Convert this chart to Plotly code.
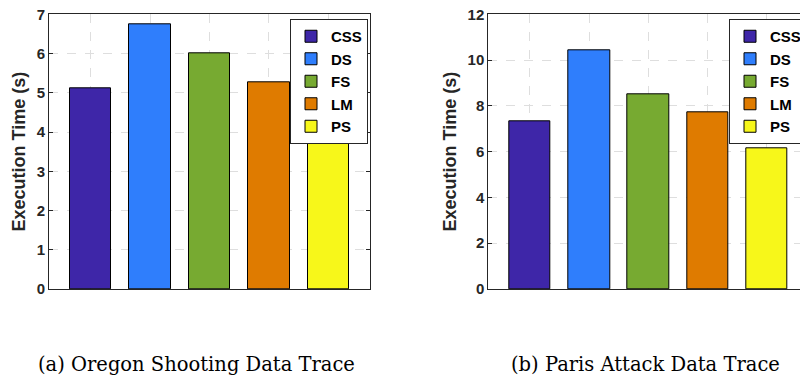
import plotly.graph_objects as go

methods = ["CSS", "DS", "FS", "LM", "PS"]
colors = ["#3e26a8", "#2f7efc", "#77aa31", "#df7b00", "#f7f71a"]
oregon_times = [5.12, 6.745, 6.01, 5.28, 3.87]
paris_times = [7.33, 10.41, 8.51, 7.74, 6.14]
captions = ["(a) Oregon Shooting Data Trace", "(b) Paris Attack Data Trace"]

W, H = 800, 377
ink = "#262626"
sans = "Liberation Sans, Arial, sans-serif"

fig = go.Figure()
for i, (m, c) in enumerate(zip(methods, colors)):
    fig.add_trace(go.Bar(x=[m], y=[oregon_times[i]], name=m, marker=dict(color=c, line=dict(color="black", width=1)),
                         width=0.7, xaxis="x", yaxis="y", legend="legend"))
    fig.add_trace(go.Bar(x=[m], y=[paris_times[i]], name=m, marker=dict(color=c, line=dict(color="black", width=1)),
                         width=0.7, xaxis="x2", yaxis="y2", legend="legend2"))

ytop = 1 - 14.3 / H
ybot = 1 - 289 / H

axis_common = dict(showgrid=True, gridcolor="#dedede", griddash="dash", gridwidth=1,
                   showline=True, linecolor=ink, linewidth=1, zeroline=False, automargin=False,
                   ticks="inside", ticklen=4, tickcolor=ink,
                   tickfont=dict(family=sans, size=15, color=ink, weight="bold"))
title_font = dict(family=sans, size=18, color=ink, weight="bold")
legend_font = dict(family=sans, size=15, color="black", weight="bold")

fig.update_layout(
    width=W, height=H, margin=dict(l=0, r=0, t=0, b=0, autoexpand=False),
    paper_bgcolor="white", plot_bgcolor="white",
    barmode="overlay", bargap=0,
    xaxis=dict(axis_common, domain=[49 / W, 370 / W], anchor="y", range=[-0.7, 4.7],
               showticklabels=False, mirror="ticks", ticks="", categoryorder="array", categoryarray=methods),
    yaxis=dict(axis_common, domain=[ybot, ytop], anchor="x", range=[0, 7], dtick=1, mirror="ticks",
               title=dict(text="Execution Time (s)", standoff=6, font=title_font)),
    xaxis2=dict(axis_common, domain=[488.3 / W, 1.0], anchor="y2", range=[-0.7, 4.557],
                showticklabels=False, mirror=True, ticks="", categoryorder="array", categoryarray=methods),
    yaxis2=dict(axis_common, domain=[ybot, ytop], anchor="x2", range=[0, 12], dtick=2,
                title=dict(text="Execution Time (s)", standoff=6, font=title_font)),
    legend=dict(x=368 / W, xanchor="right", y=1 - 19 / H, yanchor="top",
                bgcolor="white", bordercolor=ink, borderwidth=1, font=legend_font,
                tracegroupgap=0, itemwidth=30),
    legend2=dict(x=729 / W, xanchor="left", y=1 - 19 / H, yanchor="top",
                 bgcolor="white", bordercolor=ink, borderwidth=1, font=legend_font,
                 tracegroupgap=0, itemwidth=30),
    showlegend=True,
)

cap_font = dict(family="DejaVu Serif, serif", size=19.5, color="black")
fig.add_annotation(text=captions[0], x=196 / W, y=1 - 364 / H, xref="paper", yref="paper",
                   xanchor="center", yanchor="middle", showarrow=False, font=cap_font)
fig.add_annotation(text=captions[1], x=645 / W, y=1 - 364 / H, xref="paper", yref="paper",
                   xanchor="center", yanchor="middle", showarrow=False, font=cap_font)

fig.write_html("out.html", config={"displayModeBar": False},
               post_script="document.body.style.margin='0';document.body.style.overflow='hidden';")
